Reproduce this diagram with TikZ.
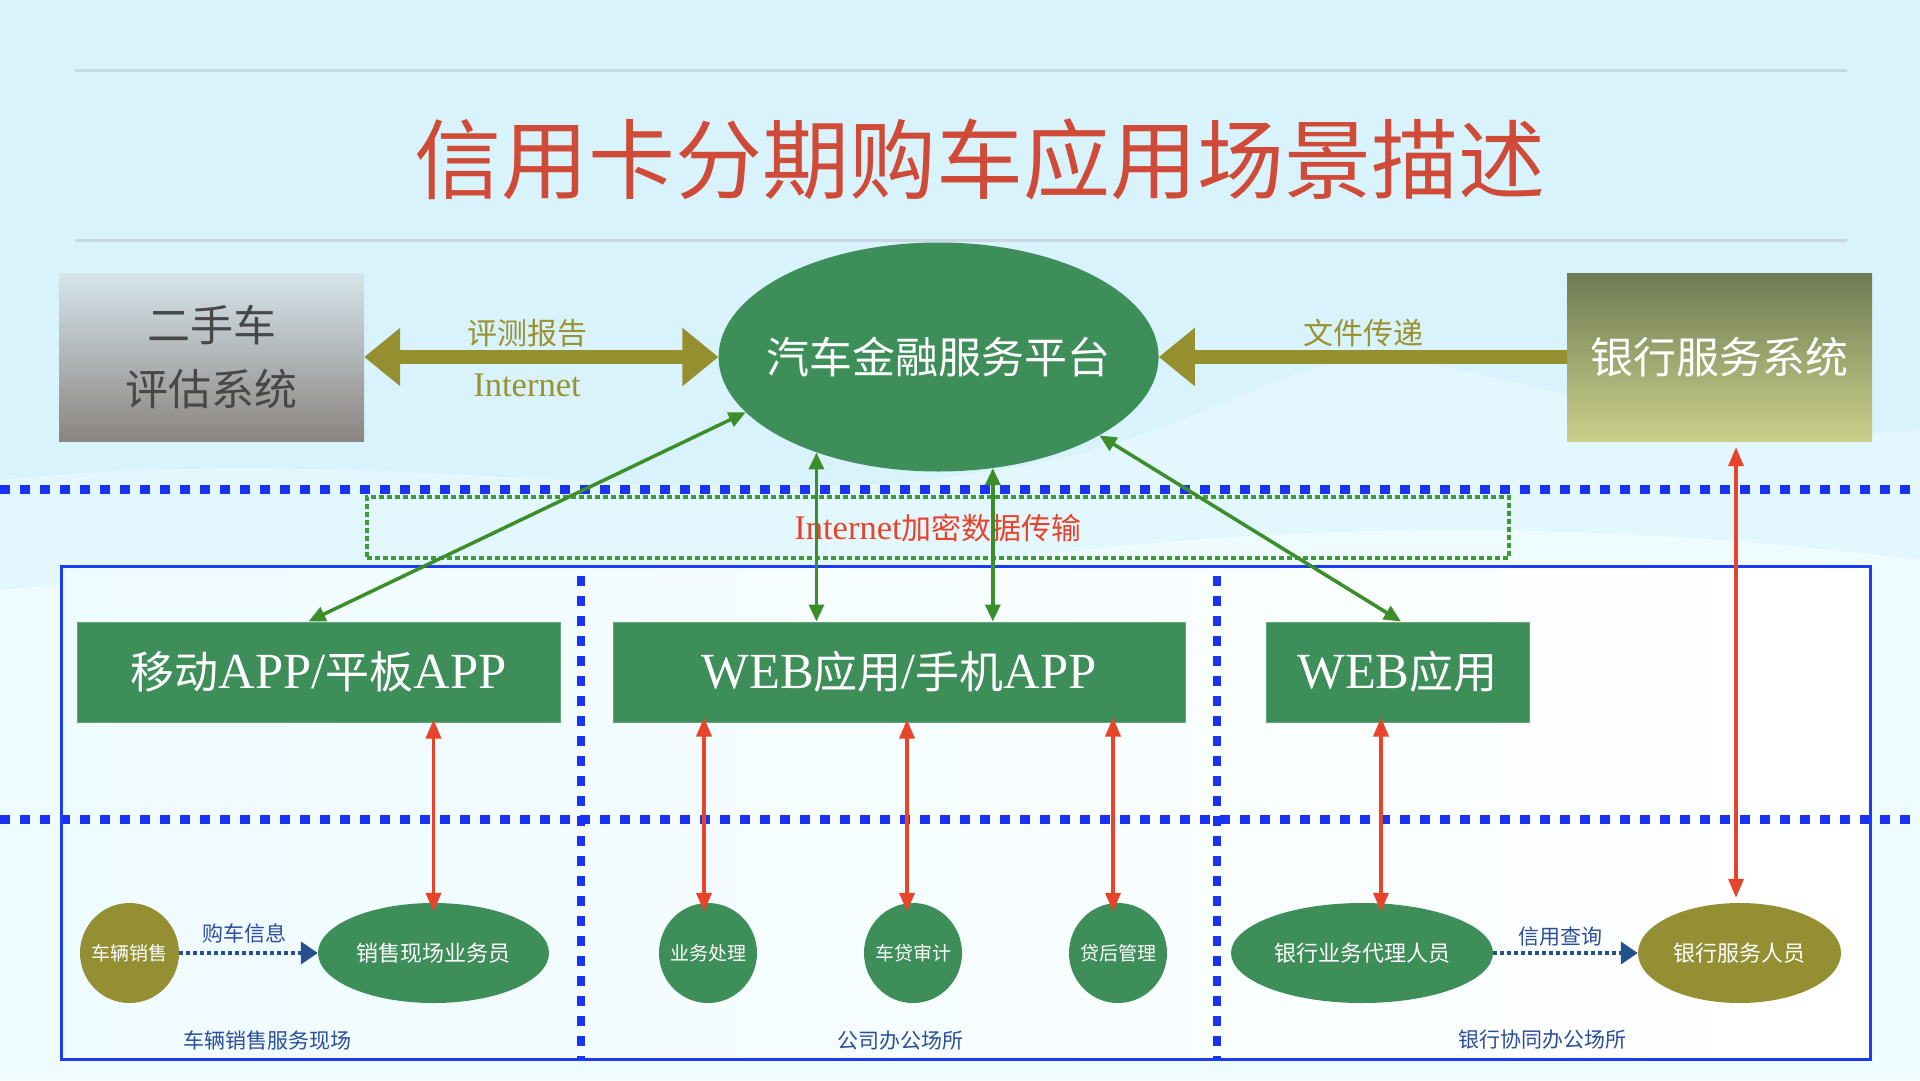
\documentclass[tikz,border=0pt]{standalone}
\usepackage{fontspec}
\setmainfont{Noto Sans CJK SC}
\newfontfamily\lat[Scale=1.15]{Liberation Serif}
\usetikzlibrary{arrows.meta,shapes.geometric,calc}
\definecolor{bgblue}{HTML}{D9F3FD}
\definecolor{bgl1}{HTML}{E3F8FE}
\definecolor{bgl2}{HTML}{EEFBFF}
\definecolor{dkgreen}{HTML}{3E8E5A}
\definecolor{olivefill}{HTML}{948F32}
\definecolor{olivearrow}{HTML}{958F30}
\definecolor{olivetxt}{HTML}{9A922E}
\definecolor{garrow}{HTML}{3C8E2A}
\definecolor{rarrow}{HTML}{E8432B}
\definecolor{bluedot}{HTML}{1A33F2}
\definecolor{blueline}{HTML}{1A3CF5}
\definecolor{bluetxt}{HTML}{2A4E9C}
\definecolor{dotarrow}{HTML}{245090}
\definecolor{titlered}{HTML}{D04A38}
\definecolor{titleline}{HTML}{C8D8E2}
\definecolor{grayt}{HTML}{D6E5EC}
\definecolor{grayb}{HTML}{8A8580}
\definecolor{olivet}{HTML}{6E7B52}
\definecolor{oliveb}{HTML}{CAD08A}
\definecolor{greendot}{HTML}{3F9A35}
\tikzset{
  fs/.style={font=\fontsize{#1}{#1}\selectfont},
  wtext/.style={text=white, inner sep=0pt},
  gbox/.style={rectangle, fill=dkgreen, draw=dkgreen!80!white, line width=1pt, minimum height=100pt, text=white, fs=44, inner sep=0pt},
  ell/.style={ellipse, inner sep=0pt, minimum height=100pt},
  etext/.style={text=white, inner sep=0pt, fs=#1},
  olivearr/.style={draw=olivearrow, line width=14pt},
  garr/.style={draw=garrow, line width=3.5pt, {Triangle[length=17pt,width=15pt]}-{Triangle[length=17pt,width=15pt]}},
  rarr/.style={draw=rarrow, line width=3.5pt, {Triangle[length=19pt,width=15pt]}-{Triangle[length=19pt,width=15pt]}},
  bdarr/.style={draw=dotarrow, line width=4pt, dash pattern=on 4pt off 3pt, -{Triangle[length=17pt,width=22pt]}},
  bluedots/.style={draw=bluedot, line width=9pt, dash pattern=on 10pt off 10pt},
  vdots/.style={draw=bluedot, line width=8pt, dash pattern=on 10pt off 10pt},
  bluelab/.style={text=bluetxt, fs=21, inner sep=0pt},
}
\begin{document}
\begin{tikzpicture}[x=1pt,y=-1pt]
\useasboundingbox (0,0) rectangle (1920,1080);
% background
\fill[bgblue] (0,0) rectangle (1920,1080);
\fill[bgl1] (0,480) .. controls (400,440) and (700,520) .. (1000,470) .. controls (1200,440) and (1280,350) .. (1400,360) .. controls (1550,380) and (1700,450) .. (1920,430) -- (1920,1080) -- (0,1080) -- cycle;
\fill[bgl2] (0,590) .. controls (300,560) and (700,600) .. (1000,560) .. controls (1300,520) and (1600,520) .. (1920,560) -- (1920,1080) -- (0,1080) -- cycle;
\shade[left color=bgl2, right color=white] (61,566) rectangle (1870,1059);
% title
\draw[titleline, line width=3pt] (75,70) -- (1847,70);
\draw[titleline, line width=3pt] (75,240) -- (1847,240);
\node[text=titlered, fs=87, inner sep=0pt] (title) at (980,159) {信用卡分期购车应用场景描述};
% dotted separators
\draw[bluedots] (0,489) -- (1920,489);
\draw[bluedots] (0,819) -- (1920,819);
% encrypted channel box
\node[draw=greendot, line width=3.5pt, dash pattern=on 5pt off 3pt, minimum width=1142pt, minimum height=61pt, inner sep=0pt, text=rarrow, fs=30] (enc) at (938,527.5) {{\lat Internet}加密数据传输};
% big region rectangle
\draw[blueline, line width=3pt] (61,566) rectangle (1870,1059);
\draw[vdots] (581,576) -- (581,1059);
\draw[vdots] (1217,576) -- (1217,1059);
% top systems
\node[rectangle, top color=grayt, bottom color=grayb, minimum width=305pt, minimum height=168pt, align=center, text=black!72, font=\fontsize{43}{64}\selectfont, inner sep=0pt] (used) at (211.5,357) {二手车\\评估系统};
\node[ellipse, fill=dkgreen, minimum width=440pt, minimum height=229pt, inner sep=0pt] (plat) at (938.6,357) {};
\node[wtext, fs=43] (platT) at (plat.center) {汽车金融服务平台};
\node[rectangle, top color=olivet, bottom color=oliveb, minimum width=305pt, minimum height=168pt, text=white, fs=43, inner sep=0pt] (bank) at (1719.5,357) {银行服务系统};
% olive arrows
\draw[olivearr, {Triangle[length=36pt,width=56pt]}-{Triangle[length=36pt,width=56pt]}] (used.east) -- (plat.west);
\draw[olivearr, -{Triangle[length=36pt,width=56pt]}] (bank.west) -- (plat.east);
\node[text=olivetxt, fs=30, inner sep=0pt] (lab1) at (527,333) {评测报告};
\node[text=olivetxt, fs=30, inner sep=0pt] (lab2) at (527,385) {\lat Internet};
\node[text=olivetxt, fs=30, inner sep=0pt] (lab3) at (1363,333) {文件传递};
% application boxes
\node[gbox, minimum width=483pt] (mob) at (318.5,672) {移动{\lat APP/}平板{\lat APP}};
\node[gbox, minimum width=572pt] (web) at (899,672) {{\lat WEB}应用{\lat /}手机{\lat APP}};
\node[gbox, minimum width=263pt] (web2) at (1397.5,672) {{\lat WEB}应用};
% green links
\draw[garr] (plat.196) -- ([xshift=-10pt]mob.north);
\draw[garr] (plat.218) -- (plat.218 |- web.north);
\draw[garr] (plat.-64.3) -- (plat.-64.3 |- web.north);
\draw[garr] (plat.-26) -- ([xshift=3.5pt]web2.north);
% bottom actors
\node[ell, fill=olivefill, minimum width=99pt, label={[etext=19]center:车辆销售}] (car) at (129.5,953) {};
\node[ell, fill=dkgreen, minimum width=231pt, label={[etext=22]center:销售现场业务员}] (sales) at (433.5,953) {};
\node[ell, fill=dkgreen, minimum width=98pt, label={[etext=19]center:业务处理}] (yw) at (708,953) {};
\node[ell, fill=dkgreen, minimum width=98pt, label={[etext=19]center:车贷审计}] (cd) at (913,953) {};
\node[ell, fill=dkgreen, minimum width=98pt, label={[etext=19]center:贷后管理}] (dh) at (1118,953) {};
\node[ell, fill=dkgreen, minimum width=262pt, label={[etext=22]center:银行业务代理人员}] (agent) at (1362,953) {};
\node[ell, fill=olivefill, minimum width=203pt, label={[etext=22]center:银行服务人员}] (bsp) at (1739.5,953) {};
% red links
\coordinate (x1) at (sales.north);
\coordinate (x2) at ([xshift=-4pt]yw.north);
\coordinate (x3) at ([xshift=-6pt]cd.north);
\coordinate (x4) at ([xshift=-5pt]dh.north);
\coordinate (x5) at ([xshift=19pt]agent.north);
\coordinate (x6) at ([xshift=-3.5pt]bsp.north);
\draw[rarr, shorten <=-3pt, shorten >=-9pt] (x1 |- mob.south) -- (x1);
\draw[rarr, shorten <=-5pt, shorten >=-9pt] (x2 |- web.south) -- (x2);
\draw[rarr, shorten <=-3pt, shorten >=-9pt] (x3 |- web.south) -- (x3);
\draw[rarr, shorten <=-5pt, shorten >=-9pt] (x4 |- web.south) -- (x4);
\draw[rarr, shorten <=-5pt, shorten >=-9pt] (x5 |- web2.south) -- (x5);
\draw[rarr, shorten <=6pt, shorten >=5pt] (x6 |- bank.south) -- (x6);
% dotted info arrows
\draw[bdarr] (car.east) -- (sales.west);
\node[text=bluetxt, fs=21, inner sep=0pt] (info1) at (244,933) {购车信息};
\draw[bdarr] (agent.east) -- (bsp.west);
\node[text=bluetxt, fs=21, inner sep=0pt] (info2) at (1560,937) {信用查询};
% region labels
\node[bluelab] (reg1) at (267,1040) {车辆销售服务现场};
\node[bluelab] (reg2) at (900,1041) {公司办公场所};
\node[bluelab] (reg3) at (1542,1040) {银行协同办公场所};
\end{tikzpicture}
\end{document}
